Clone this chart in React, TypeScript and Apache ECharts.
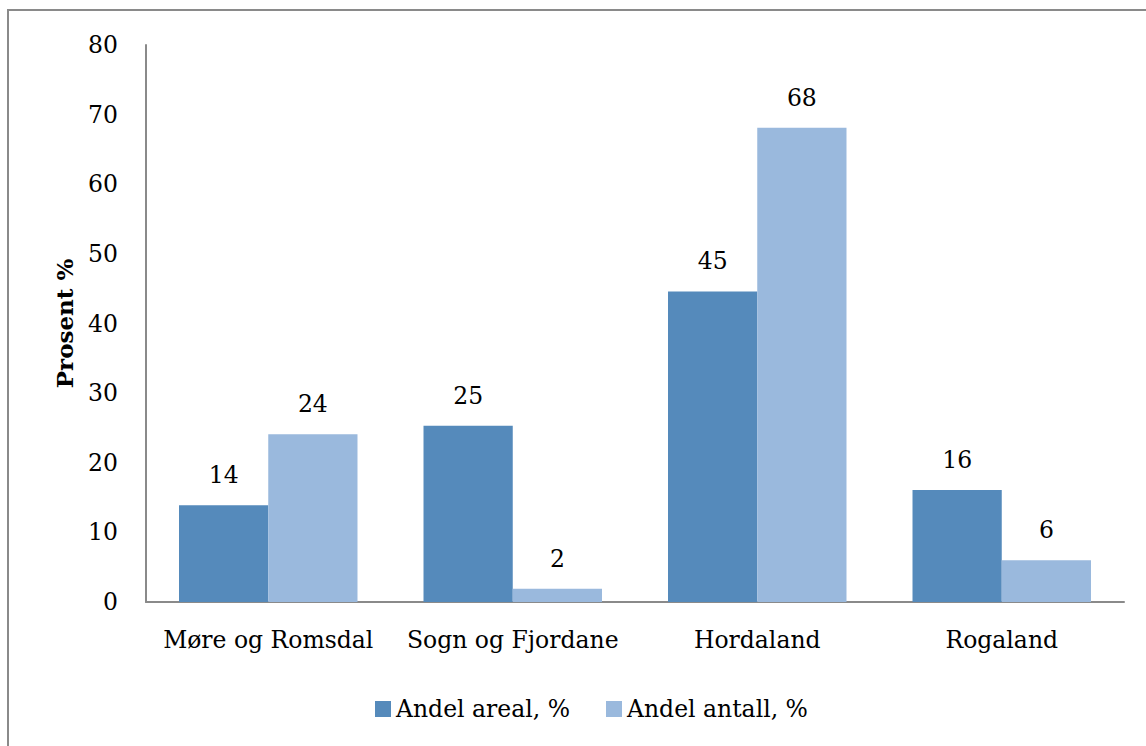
import React, { useEffect, useRef } from "react";
import * as echarts from "echarts";

const categories = ["Møre og Romsdal", "Sogn og Fjordane", "Hordaland", "Rogaland"];
const andelAreal = [13.9, 25.3, 44.6, 16.1];
const andelAntall = [24.1, 1.9, 68.1, 6.0];
const seriesNames = ["Andel areal, %", "Andel antall, %"];
const yTicks = { min: 0, max: 80, interval: 10 };

const FONT = "DejaVu Serif";
const FS = 23.5;

export default function App() {
  const ref = useRef<HTMLDivElement>(null);
  useEffect(() => {
    if (!ref.current) return;
    const chart = echarts.init(ref.current, null, { renderer: "svg" });
    const label = {
      show: true,
      position: "top",
      distance: 18,
      fontFamily: FONT,
      fontSize: FS,
      color: "#000",
      formatter: (p: any) => String(Math.round(p.value)),
    };
    chart.setOption({
      animation: false,
      backgroundColor: "#fff",
      textStyle: { fontFamily: FONT },
      graphic: [
        {
          type: "rect",
          shape: { x: 8, y: 10, width: 1160, height: 760 },
          style: { fill: "none", stroke: "#8a8a8a", lineWidth: 2 },
          silent: true,
        },
      ],
      grid: { left: 146, right: 22, top: 45, bottom: 144, containLabel: false },
      legend: {
        left: 370,
        top: 692,
        itemWidth: 16,
        itemHeight: 16,
        itemGap: 36,
        icon: "rect",
        textStyle: { fontFamily: FONT, fontSize: FS, color: "#000" },
        data: seriesNames,
      },
      xAxis: {
        type: "category",
        data: categories,
        axisLine: { lineStyle: { color: "#8a8a8a", width: 2 } },
        axisTick: { show: false },
        axisLabel: { fontFamily: FONT, fontSize: FS, color: "#000", margin: 26, interval: 0 },
      },
      yAxis: {
        type: "value",
        min: yTicks.min,
        max: yTicks.max,
        interval: yTicks.interval,
        name: "Prosent %",
        nameLocation: "middle",
        nameGap: 70,
        nameRotate: 90,
        nameTextStyle: { fontFamily: FONT, fontSize: 23, fontWeight: "bold", color: "#000" },
        axisLine: { show: true, lineStyle: { color: "#8a8a8a", width: 2 } },
        axisTick: { show: false },
        splitLine: { show: false },
        axisLabel: { fontFamily: FONT, fontSize: FS, color: "#000", margin: 28 },
      },
      series: [
        {
          name: seriesNames[0],
          type: "bar",
          data: andelAreal,
          barGap: "0%",
          barCategoryGap: "27%",
          itemStyle: { color: "#558abb" },
          label,
        },
        {
          name: seriesNames[1],
          type: "bar",
          data: andelAntall,
          barGap: "0%",
          barCategoryGap: "27%",
          itemStyle: { color: "#9ab9dd" },
          label,
        },
      ],
    });
    return () => chart.dispose();
  }, []);
  return (
    <div
      ref={ref}
      style={{ position: "fixed", left: 0, top: 0, width: 1146, height: 746 }}
    />
  );
}
